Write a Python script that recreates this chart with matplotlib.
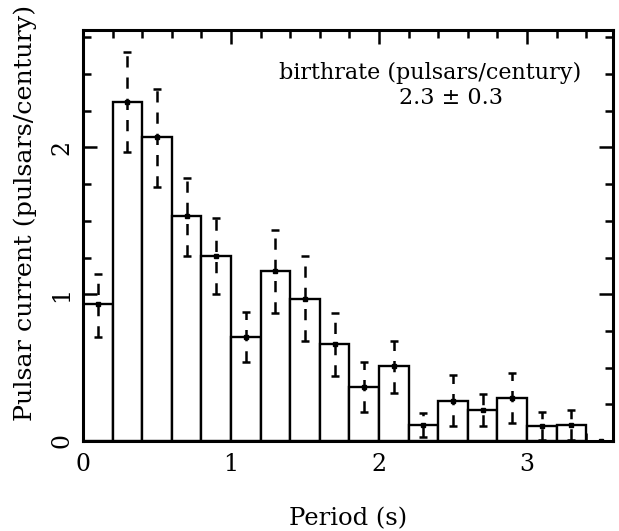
import matplotlib
matplotlib.use("Agg")
from matplotlib import pyplot as plt
from matplotlib.ticker import MultipleLocator
import numpy as np

# histogram of pulsar current per 0.2 s period bin
bin_left = [0.0, 0.2, 0.4, 0.6, 0.8, 1.0, 1.2, 1.4, 1.6, 1.8,
            2.0, 2.2, 2.4, 2.6, 2.8, 3.0, 3.2, 3.4]
current = [0.93, 2.31, 2.07, 1.53, 1.26, 0.71, 1.16, 0.97, 0.66, 0.37,
           0.51, 0.11, 0.27, 0.21, 0.29, 0.10, 0.11, 0.0]
err_upper = [0.21, 0.34, 0.33, 0.26, 0.26, 0.17, 0.28, 0.29, 0.21, 0.17,
             0.17, 0.08, 0.18, 0.11, 0.17, 0.095, 0.10, 0.0]
err_lower = [0.22, 0.34, 0.34, 0.27, 0.26, 0.17, 0.29, 0.29, 0.22, 0.17,
             0.18, 0.08, 0.17, 0.11, 0.17, 0.095, 0.10, 0.0]
bin_width = 0.2

plt.rcParams['font.family'] = 'DejaVu Serif'

fig = plt.figure(figsize=(6.19, 5.31), dpi=100)
ax = fig.add_axes([0.134, 0.1695, 0.856, 0.774])

bar_heights = [c if c > 0 else np.nan for c in current]
ax.bar(bin_left, bar_heights, width=bin_width, align='edge',
       color='white', edgecolor='black', linewidth=1.7, zorder=2)

centers = [b + bin_width / 2 for b in bin_left]
eb = ax.errorbar(centers, current, yerr=[err_lower, err_upper], fmt='s',
                 ms=3.2, color='black', ecolor='black', elinewidth=1.8,
                 capsize=2.8, capthick=1.8, zorder=3)
for lc in eb[2]:
    lc.set_linestyle((0, (4.5, 4)))

ax.set_xlim(0, 3.58)
ax.set_ylim(0, 2.8)
ax.xaxis.set_major_locator(MultipleLocator(1))
ax.xaxis.set_minor_locator(MultipleLocator(0.2))
ax.yaxis.set_major_locator(MultipleLocator(1))
ax.yaxis.set_minor_locator(MultipleLocator(0.25))
ax.tick_params(which='both', direction='in', top=True, right=True,
               width=1.8, labelsize=17)
ax.tick_params(which='major', length=10, pad=9)
ax.tick_params(which='minor', length=5.5)
ax.tick_params(axis='y', labelrotation=90, pad=7)
for lbl in ax.get_yticklabels():
    lbl.set_va('center')
for s in ax.spines.values():
    s.set_linewidth(2.2)

ax.set_xlabel('Period (s)', fontsize=17.5, labelpad=22)
ax.set_ylabel('Pulsar current (pulsars/century)', fontsize=18.3)
ax.yaxis.set_label_coords(-0.109, 0.555)
ax.yaxis.label.set_va('center')

ax.text(2.345, 2.51, 'birthrate (pulsars/century)', ha='center',
        va='center', fontsize=16)
ax.text(2.49, 2.34, '2.3 ± 0.3', ha='center', va='center', fontsize=16)

plt.savefig('out.png', dpi=100)
